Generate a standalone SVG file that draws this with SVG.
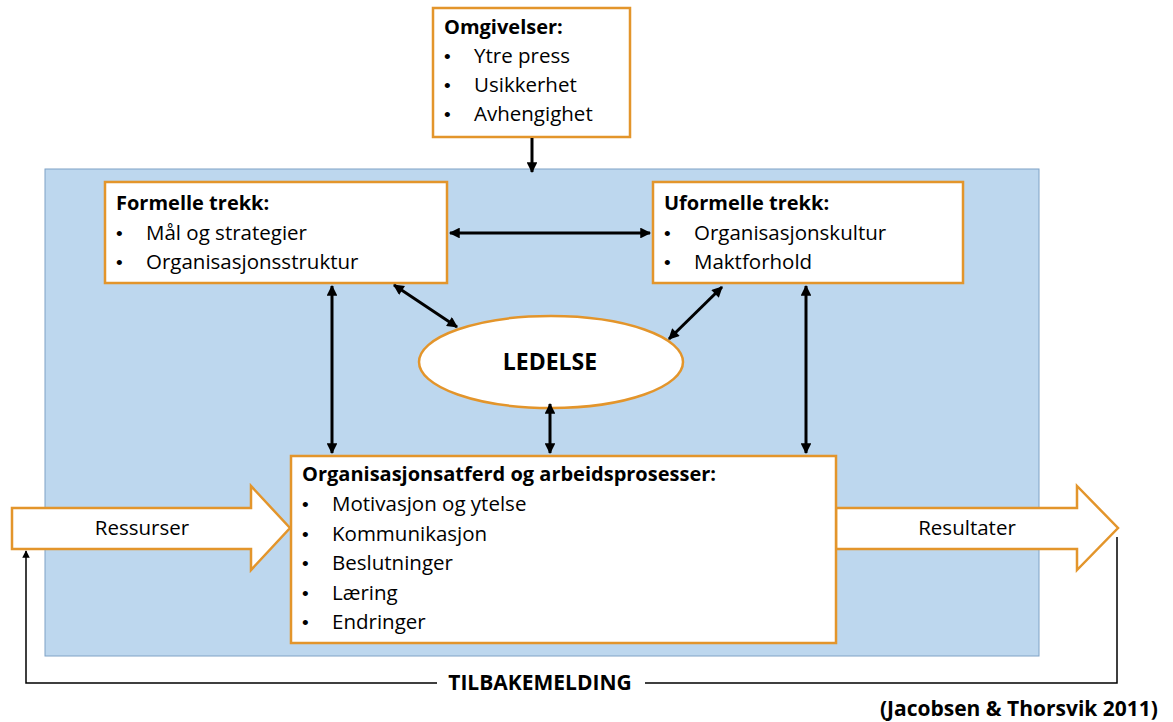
<svg xmlns="http://www.w3.org/2000/svg" width="1173" height="722" viewBox="0 0 1173 722">
<defs>
<marker id="ah" viewBox="0 0 10 10" refX="9" refY="5" markerWidth="4" markerHeight="3.6" orient="auto-start-reverse" markerUnits="strokeWidth">
<path d="M0,0 L10,5 L0,10 z" fill="#000"/>
</marker>
<marker id="ah2" viewBox="0 0 10 10" refX="9" refY="5" markerWidth="6" markerHeight="5" orient="auto-start-reverse" markerUnits="strokeWidth">
<path d="M0,0 L10,5 L0,10 z" fill="#000"/>
</marker>
<style>
.box{fill:#fff;stroke:#E3952B;stroke-width:2.5}
.t{font-family:"Open Sans","Liberation Sans",Arial,sans-serif;font-size:20.5px;fill:#000}
.b{font-weight:bold;font-size:20px}
.bu{font-family:"Liberation Sans",Arial,sans-serif;font-size:19px}
.con{stroke:#000;stroke-width:3;fill:none}
</style>
</defs>
<rect width="1173" height="722" fill="#fff"/>
<rect id="org" x="45" y="169" width="994" height="487" fill="#BDD7EE" stroke="#7FA2C6" stroke-width="1"/>

<g id="ressurser">
<path class="box" d="M12,508 L251,508 L251,486 L290,528 L251,570 L251,549 L12,549 Z"/>
<text class="t" x="142" y="535" text-anchor="middle">Ressurser</text>
</g>
<g id="resultater">
<path class="box" d="M836,508 L1077,508 L1077,486 L1118,528 L1077,570 L1077,549 L836,549 Z"/>
<text class="t" x="967" y="535" text-anchor="middle">Resultater</text>
</g>

<g id="omgivelser">
<rect class="box" x="433" y="8" width="197" height="129"/>
<text class="t b" x="444" y="34">Omgivelser:</text>
<text class="t"><tspan class="bu" x="444" y="63">•</tspan><tspan x="474" y="63">Ytre press</tspan></text>
<text class="t"><tspan class="bu" x="444" y="92">•</tspan><tspan x="474" y="92">Usikkerhet</tspan></text>
<text class="t"><tspan class="bu" x="444" y="121">•</tspan><tspan x="474" y="121">Avhengighet</tspan></text>
</g>

<g id="formelle">
<rect class="box" x="105" y="182" width="342" height="101"/>
<text class="t b" x="116" y="210">Formelle trekk:</text>
<text class="t"><tspan class="bu" x="116" y="240">•</tspan><tspan x="146" y="240">Mål og strategier</tspan></text>
<text class="t"><tspan class="bu" x="116" y="269">•</tspan><tspan x="146" y="269">Organisasjonsstruktur</tspan></text>
</g>

<g id="uformelle">
<rect class="box" x="653" y="182" width="310" height="101"/>
<text class="t b" x="664" y="210">Uformelle trekk:</text>
<text class="t"><tspan class="bu" x="664" y="240">•</tspan><tspan x="694" y="240">Organisasjonskultur</tspan></text>
<text class="t"><tspan class="bu" x="664" y="269">•</tspan><tspan x="694" y="269">Maktforhold</tspan></text>
</g>

<g id="ledelse">
<ellipse class="box" cx="551" cy="362" rx="132" ry="46"/>
<text class="t b" x="550" y="370" text-anchor="middle" style="font-size:23px">LEDELSE</text>
</g>

<g id="atferd">
<rect class="box" x="291" y="456" width="545" height="187"/>
<text class="t b" x="302" y="481">Organisasjonsatferd og arbeidsprosesser:</text>
<text class="t"><tspan class="bu" x="302" y="511">•</tspan><tspan x="332" y="511">Motivasjon og ytelse</tspan></text>
<text class="t"><tspan class="bu" x="302" y="541">•</tspan><tspan x="332" y="541">Kommunikasjon</tspan></text>
<text class="t"><tspan class="bu" x="302" y="570">•</tspan><tspan x="332" y="570">Beslutninger</tspan></text>
<text class="t"><tspan class="bu" x="302" y="600">•</tspan><tspan x="332" y="600">Læring</tspan></text>
<text class="t"><tspan class="bu" x="302" y="629">•</tspan><tspan x="332" y="629">Endringer</tspan></text>
</g>

<g id="connectors">
<line class="con" x1="532" y1="138" x2="532" y2="172" marker-end="url(#ah)"/>
<line class="con" x1="450" y1="233" x2="650" y2="233" marker-start="url(#ah)" marker-end="url(#ah)"/>
<line class="con" x1="394" y1="285" x2="457" y2="327" marker-start="url(#ah)" marker-end="url(#ah)"/>
<line class="con" x1="722" y1="287" x2="669" y2="339" marker-start="url(#ah)" marker-end="url(#ah)"/>
<line class="con" x1="550" y1="404" x2="550" y2="453" marker-start="url(#ah)" marker-end="url(#ah)"/>
<line class="con" x1="332" y1="286" x2="332" y2="453" marker-start="url(#ah)" marker-end="url(#ah)"/>
<line class="con" x1="806" y1="286" x2="806" y2="453" marker-start="url(#ah)" marker-end="url(#ah)"/>
<path d="M1117,537 L1117,683 L645,683 M437,683 L26,683 L26,551" stroke="#000" stroke-width="1.5" fill="none" marker-end="url(#ah2)"/>
</g>
<text class="t b" x="540" y="690" text-anchor="middle" style="font-size:21px">TILBAKEMELDING</text>
<text class="t b" x="1158" y="716" text-anchor="end" style="font-size:21px">(Jacobsen &amp; Thorsvik 2011)</text>
</svg>
